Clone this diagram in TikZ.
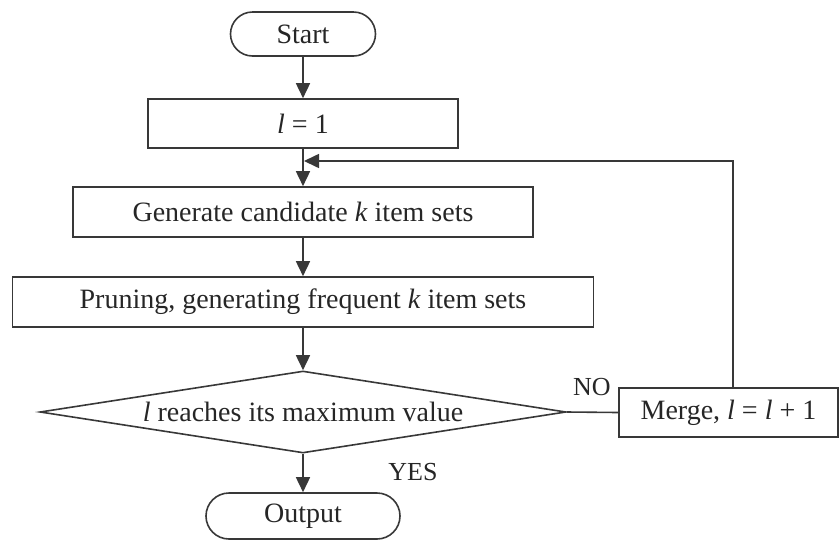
\documentclass[tikz,border=0pt]{standalone}
\usepackage{fontspec}
\setmainfont{Liberation Serif}
\usetikzlibrary{shapes.misc,shapes.geometric,arrows.meta}
\definecolor{lc}{gray}{0.22}
\definecolor{tc}{gray}{0.15}
\begin{document}
\begin{tikzpicture}[x=1pt,y=-1pt,
  every node/.style={text=tc, font=\fontsize{28}{32}\selectfont, inner sep=0pt},
  box/.style={draw=lc, line width=1.6pt, rectangle},
  term/.style={draw=lc, line width=1.6pt, rounded rectangle},
  dec/.style={draw=lc, line width=1.6pt, diamond, aspect=6.4},
  lbl/.style={font=\fontsize{26}{30}\selectfont},
  arr/.style={draw=lc, line width=1.6pt, -{Triangle[width=14pt,length=15pt]}},
  link/.style={draw=lc, line width=1.6pt}]
\useasboundingbox (0,0) rectangle (839,542);
\node[term, minimum width=145pt, minimum height=44pt] (start) at (303,34) {Start};
\node[box, minimum width=310pt, minimum height=49pt] (l1) at (303,123.5) {\textit{l} = 1};
\node[box, minimum width=460pt, minimum height=50pt] (gen) at (303,212) {Generate candidate \textit{k} item sets};
\node[box, minimum width=581pt, minimum height=50pt] (prune) at (303,302) {Pruning, generating frequent \textit{k} item sets};
\node[dec, minimum width=526pt, minimum height=82pt] (dec) at (303,412) {\textit{l} reaches its maximum value};
\node[term, minimum width=194pt, minimum height=46pt] (out) at (303,516) {Output};
\node[box, minimum width=219pt, minimum height=49pt] (merge) at (728.5,412.5) {Merge, \textit{l} = \textit{l} + 1};
\node[lbl] (yes) at (413,472) {YES};
\node[lbl] (no) at (592,387) {NO};
\coordinate (up) at (733,161);
\coordinate (join) at (304,161);
\draw[arr] (start.south) -- (l1.north);
\draw[arr] (l1.south) -- (gen.north);
\draw[arr] (gen.south) -- (prune.north);
\draw[arr] (prune.south) -- (dec.north);
\draw[arr] (dec.south) -- (out.north);
\draw[link] (dec.east) -- (merge.west);
\draw[arr] (merge.north -| up) -- (up) -- (join);
\end{tikzpicture}
\end{document}
